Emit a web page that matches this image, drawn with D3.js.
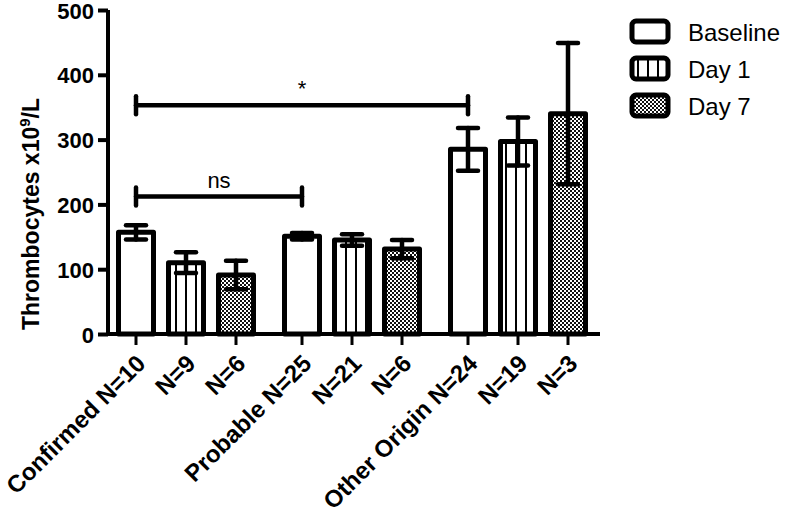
<!DOCTYPE html>
<html>
<head>
<meta charset="utf-8">
<script src="https://cdn.jsdelivr.net/npm/d3@7"></script>
<style>
  body { margin: 0; background: #fff; }
  svg { font-family: "Liberation Sans", Arial, sans-serif; }
</style>
</head>
<body>
<svg id="chart" width="787" height="514"></svg>
<script>
// data
var groups = ["Confirmed", "Probable", "Other Origin"];
var series = ["Baseline", "Day 1", "Day 7"];
var means = [
  [157, 110, 91],
  [151, 145, 131],
  [285, 297, 340]
];
var errs = [
  [11, 16, 22],
  [5, 9, 14],
  [33, 37, 109]
];
var labels = [
  ["Confirmed N=10", "N=9", "N=6"],
  ["Probable N=25", "N=21", "N=6"],
  ["Other Origin N=24", "N=19", "N=3"]
];
var yTicks = [0, 100, 200, 300, 400, 500];
// significance brackets: [group, series] from -> to, height, label
var brackets = [
  {from: [0, 0], to: [2, 0], y: 353, text: "*"},
  {from: [0, 0], to: [1, 0], y: 212, text: "ns"}
];

var svg = d3.select("#chart");
var mLeft = 108, mTop = 10, mBottom = 334, mRight = 600;

var y = d3.scaleLinear().domain([0, 500]).range([mBottom, mTop]);
var x0 = d3.scaleBand().domain(groups).range([103, 601]);
var x1 = d3.scaleBand().domain(series).range([8, 158])
  .paddingInner(0.2).paddingOuter(0.1);

function cx(g, s) {
  return x0(groups[g]) + x1(series[s]) + x1.bandwidth() / 2;
}

// patterns
var defs = svg.append("defs");
var stripes = defs.append("pattern")
  .attr("id", "stripes")
  .attr("patternUnits", "userSpaceOnUse")
  .attr("width", 10).attr("height", 10);
stripes.append("rect").attr("width", 10).attr("height", 10).attr("fill", "#fff");
stripes.append("rect").attr("x", 5).attr("width", 2).attr("height", 10).attr("fill", "#000");

var checker = defs.append("pattern")
  .attr("id", "checker")
  .attr("patternUnits", "userSpaceOnUse")
  .attr("width", 4).attr("height", 4);
checker.append("rect").attr("width", 4).attr("height", 4).attr("fill", "#fff");
checker.append("rect").attr("width", 2).attr("height", 2).attr("fill", "#111");
checker.append("rect").attr("x", 2).attr("y", 2).attr("width", 2).attr("height", 2).attr("fill", "#111");

var fills = ["#fff", "url(#stripes)", "url(#checker)"];

// flatten for drawing
var bars = [];
groups.forEach(function(g, gi) {
  series.forEach(function(s, si) {
    bars.push({g: gi, s: si, v: means[gi][si], e: errs[gi][si], label: labels[gi][si]});
  });
});

// bars
svg.append("g").selectAll("rect")
  .data(bars)
  .enter()
  .append("rect")
  .attr("x", function(d) { return cx(d.g, d.s) - x1.bandwidth() / 2 + 2.5; })
  .attr("y", function(d) { return y(d.v); })
  .attr("width", x1.bandwidth() - 5)
  .attr("height", function(d) { return y(0) - y(d.v); })
  .attr("fill", function(d) { return fills[d.s]; })
  .attr("stroke", "#000")
  .attr("stroke-width", 5)
  .attr("stroke-linejoin", "round");

// error bars
var eb = svg.append("g").selectAll("g")
  .data(bars)
  .enter()
  .append("g")
  .attr("stroke", "#000")
  .attr("stroke-width", 4.5)
  .attr("stroke-linecap", "round");
eb.append("line")
  .attr("x1", function(d) { return cx(d.g, d.s); })
  .attr("x2", function(d) { return cx(d.g, d.s); })
  .attr("y1", function(d) { return y(d.v + d.e); })
  .attr("y2", function(d) { return y(d.v - d.e); });
eb.append("line")
  .attr("x1", function(d) { return cx(d.g, d.s) - 10; })
  .attr("x2", function(d) { return cx(d.g, d.s) + 10; })
  .attr("y1", function(d) { return y(d.v + d.e); })
  .attr("y2", function(d) { return y(d.v + d.e); });
eb.append("line")
  .attr("x1", function(d) { return cx(d.g, d.s) - 10; })
  .attr("x2", function(d) { return cx(d.g, d.s) + 10; })
  .attr("y1", function(d) { return y(d.v - d.e); })
  .attr("y2", function(d) { return y(d.v - d.e); });

// y axis
var yAxis = svg.append("g")
  .attr("transform", "translate(" + mLeft + ",0)")
  .call(d3.axisLeft(y).tickValues(yTicks).tickSize(10).tickPadding(4));
yAxis.select(".domain").attr("stroke-width", 4).attr("d", "M0," + mTop + "V" + (mBottom + 2));
yAxis.selectAll(".tick line").attr("stroke-width", 4);
yAxis.selectAll(".tick text")
  .attr("font-size", 22).attr("font-weight", "bold").attr("fill", "#000")
  .attr("dy", "0.37em")
  .attr("font-family", "Liberation Sans, Arial, sans-serif");

// x axis
svg.append("line")
  .attr("x1", mLeft - 2).attr("x2", mRight)
  .attr("y1", mBottom).attr("y2", mBottom)
  .attr("stroke", "#000").attr("stroke-width", 4);

var xt = svg.append("g").selectAll("g")
  .data(bars)
  .enter()
  .append("g")
  .attr("transform", function(d) { return "translate(" + cx(d.g, d.s) + "," + mBottom + ")"; });
xt.append("line")
  .attr("y1", 0).attr("y2", 11)
  .attr("stroke", "#000").attr("stroke-width", 3);
xt.append("text")
  .attr("transform", "translate(5,25) rotate(-45)")
  .attr("text-anchor", "end")
  .attr("dy", "0.35em")
  .attr("font-size", 24)
  .attr("font-weight", "bold")
  .text(function(d) { return d.label; });

// y title
var yt = svg.append("text")
  .attr("transform", "translate(39,330) rotate(-90)")
  .attr("text-anchor", "start")
  .attr("font-size", 23)
  .attr("font-weight", "bold");
yt.append("tspan").text("Thrombocytes x10");
yt.append("tspan").attr("font-size", 15).attr("dy", -9).text("9");
yt.append("tspan").attr("dy", 9).text("/L");

// significance brackets
var br = svg.append("g").selectAll("g")
  .data(brackets)
  .enter()
  .append("g")
  .attr("stroke", "#000")
  .attr("stroke-width", 4.5)
  .attr("stroke-linecap", "round");
br.append("line")
  .attr("x1", function(d) { return cx(d.from[0], d.from[1]); })
  .attr("x2", function(d) { return cx(d.to[0], d.to[1]); })
  .attr("y1", function(d) { return y(d.y); })
  .attr("y2", function(d) { return y(d.y); });
br.append("line")
  .attr("x1", function(d) { return cx(d.from[0], d.from[1]); })
  .attr("x2", function(d) { return cx(d.from[0], d.from[1]); })
  .attr("y1", function(d) { return y(d.y) - 9; })
  .attr("y2", function(d) { return y(d.y) + 9; });
br.append("line")
  .attr("x1", function(d) { return cx(d.to[0], d.to[1]); })
  .attr("x2", function(d) { return cx(d.to[0], d.to[1]); })
  .attr("y1", function(d) { return y(d.y) - 9; })
  .attr("y2", function(d) { return y(d.y) + 9; });
br.append("text")
  .attr("stroke", "none")
  .attr("x", function(d) { return (cx(d.from[0], d.from[1]) + cx(d.to[0], d.to[1])) / 2; })
  .attr("y", function(d) { return y(d.y) - 9; })
  .attr("text-anchor", "middle")
  .attr("font-size", 22)
  .text(function(d) { return d.text; });

// legend
var lg = svg.append("g").selectAll("g")
  .data(series)
  .enter()
  .append("g")
  .attr("transform", function(d, i) { return "translate(632," + (21 + i * 37) + ")"; });
lg.append("rect")
  .attr("width", 36).attr("height", 21)
  .attr("rx", 4)
  .attr("fill", function(d, i) { return fills[i]; })
  .attr("stroke", "#000").attr("stroke-width", 5);
lg.append("text")
  .attr("x", 56).attr("y", 11)
  .attr("dy", "0.36em")
  .attr("font-size", 24)
  .text(function(d) { return d; });
</script>
</body>
</html>
